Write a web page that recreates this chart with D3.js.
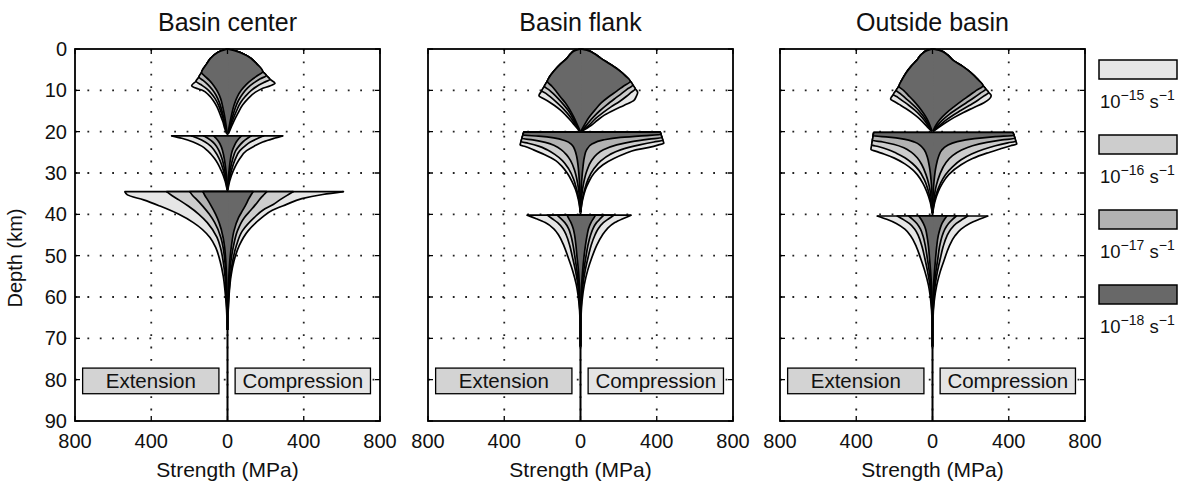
<!DOCTYPE html>
<html>
<head>
<meta charset="utf-8">
<script src="https://cdn.jsdelivr.net/npm/d3@7"></script>
<style>
    body { margin: 0; background: #fff; }
    svg { display: block; }
    text { font-family: "Liberation Sans", Arial, Helvetica, sans-serif; fill: #111; }
</style>
</head>
<body>
<div id="chart"></div>
<script>
// ---- data (depth in km, strength in MPa; extension < 0) ----
const panelTitles = ["Basin center", "Basin flank", "Outside basin"];
const rateExponents = ["15", "16", "17", "18"];
const depthTicks = [0, 10, 20, 30, 40, 50, 60, 70, 80, 90];
const gridDepths = [10, 20, 30, 40, 50, 60, 70, 80];
const strengthTicks = [-800, -400, 0, 400, 800];
const strengthTickLabels = ["800", "400", "0", "400", "800"];
const gridStrengths = [-400, 0, 400];
const regimeLabels = ["Extension", "Compression"];

// brittle (frictional) lines per layer, shared by all strain rates
const centerBrittleExt = [
    [[0, 0], [0.5, -35], [1.6, -74], [3.6, -109], [5.7, -136], [6.8, -150], [7.8, -165], [8.9, -188]],
    [], []
];
const centerBrittleComp = [
    [[0, 0], [0.5, 45], [1.6, 100], [3.6, 153], [5.5, 185], [6.4, 203], [7.3, 222], [8.3, 249]],
    [], []
];
// ductile branches per layer, strain rates 1e-15 .. 1e-18
const centerExt = [
    [
        [[8.9, -188], [9.4, -170], [10.1, -127], [11, -102], [12.5, -74], [14, -55], [15.8, -39], [17.5, -25], [19.4, -13], [20.5, -4]],
        [[7.8, -165], [8.6, -140], [9.6, -110], [10.6, -88], [12, -65], [13.5, -48], [15.5, -32], [17.5, -19], [20.5, -3]],
        [[6.8, -150], [7.6, -128], [8.6, -103], [9.8, -80], [11.2, -60], [12.8, -44], [14.8, -30], [17, -18], [20.5, -2]],
        [[5.7, -136], [6.6, -118], [7.6, -95], [9, -70], [10.5, -50], [12, -36], [14, -25], [16, -16], [18, -9], [20.5, -1.5]]
    ],
    [
        [[21, -293], [21.6, -240], [22.5, -180], [23.5, -135], [24.6, -105], [26.5, -68], [29.5, -32], [32, -12], [34, -2]],
        [[21, -190], [21.6, -156], [22.5, -117], [23.5, -88], [24.6, -68], [26.5, -44], [29.5, -21], [32, -8], [34, -1.5]],
        [[21, -125], [21.6, -103], [22.5, -77], [23.5, -58], [24.6, -45], [26.5, -29], [29.5, -14], [32, -5], [34, -1]],
        [[21, -72], [21.6, -60], [22.5, -45], [23.5, -34], [24.6, -26], [26.5, -17], [29.5, -8], [32, -3], [34, -0.5]]
    ],
    [
        [[34.5, -538], [35.3, -525], [36.5, -440], [38, -354], [40, -255], [42, -179], [45.6, -92], [48, -62], [51.3, -39], [55, -22], [58.5, -13], [63, -5], [68, -1]],
        [[34.5, -319], [35.5, -290], [36.5, -255], [38, -206], [40, -150], [42, -106], [45.6, -55], [48, -37], [51.3, -23], [55, -13], [58.5, -8], [63, -3], [68, -0.6]],
        [[34.5, -198], [35.5, -182], [36.5, -160], [38, -130], [40, -95], [42, -67], [45.6, -35], [48, -23], [51.3, -14], [55, -8], [58.5, -5], [63, -2], [68, -0.4]],
        [[34.5, -129], [35.5, -118], [36.5, -104], [38, -85], [40, -62], [42, -44], [45.6, -23], [48, -15], [51.3, -9], [55, -5], [58.5, -3], [63, -1.2], [68, -0.3]]
    ]
];
const centerComp = [
    [
        [[8.3, 249], [8.9, 225], [9.6, 180], [10.5, 145], [12, 108], [13.5, 80], [15.5, 55], [17.5, 33], [19.5, 14], [20.5, 4]],
        [[7.3, 222], [8.1, 190], [9, 155], [10, 125], [11.5, 93], [13, 68], [15, 47], [17, 29], [20.5, 3]],
        [[6.4, 203], [7.2, 172], [8.2, 138], [9.4, 106], [10.8, 80], [12.4, 58], [14.4, 40], [16.6, 25], [20.5, 2]],
        [[5.5, 185], [6.4, 158], [7.4, 128], [8.6, 98], [10, 72], [11.5, 52], [13.5, 35], [16, 21], [18, 12], [20.5, 1.5]]
    ],
    [
        [[21, 290], [21.6, 245], [22.5, 185], [23.5, 140], [24.6, 100], [26.5, 65], [29.5, 30], [32, 11], [34, 2]],
        [[21, 190], [21.6, 160], [22.5, 120], [23.5, 91], [24.6, 65], [26.5, 42], [29.5, 20], [32, 7], [34, 1.5]],
        [[21, 125], [21.6, 105], [22.5, 80], [23.5, 60], [24.6, 43], [26.5, 28], [29.5, 13], [32, 5], [34, 1]],
        [[21, 73], [21.6, 61], [22.5, 46], [23.5, 35], [24.6, 25], [26.5, 16], [29.5, 8], [32, 3], [34, 0.5]]
    ],
    [
        [[34.5, 608], [35.2, 500], [36.2, 390], [37.6, 310], [39, 235], [40.8, 180], [44, 108], [47.5, 62], [51.3, 34], [55, 18], [58.5, 10], [63, 4], [68, 1]],
        [[34.5, 345], [35.2, 320], [36.2, 285], [37.6, 240], [39, 185], [40.8, 140], [44, 78], [47.5, 47], [51.3, 27], [55, 15], [58.5, 8.5], [63, 3.4], [68, 0.8]],
        [[34.5, 206], [35.2, 192], [36.2, 172], [37.6, 148], [39, 122], [40.8, 88], [44, 52], [47.5, 32], [51.3, 18], [55, 10], [58.5, 6], [63, 2.4], [68, 0.5]],
        [[34.5, 134], [35.2, 125], [36.2, 112], [37.6, 97], [39, 80], [40.8, 58], [44, 34], [47.5, 21], [51.3, 12], [55, 7], [58.5, 4], [63, 1.6], [68, 0.4]]
    ]
];

const flankBrittleExt = [
    [[0, 0], [0.4, -30], [1, -48], [2.2, -70], [3.8, -108], [5.4, -140], [6.6, -160], [7.8, -174], [9, -189], [10.1, -203], [11.3, -218]],
    [[20.1, -297], [20.8, -302], [21.6, -307], [22.4, -312], [23.2, -317]],
    []
];
const flankBrittleComp = [
    [[0, 0], [0.4, 40], [1, 68], [2.2, 105], [3.8, 160], [5.4, 209], [6.6, 238], [7.8, 261], [8.7, 274], [9.6, 287], [10.5, 300]],
    [[20.1, 418], [20.7, 422], [21.4, 427], [22.1, 432], [22.8, 437]],
    []
];
const flankExt = [
    [
        [[11.3, -218], [11.9, -198], [12.5, -174], [13.6, -138], [14.8, -105], [16, -78], [17.3, -52], [18.5, -30], [19.9, -4]],
        [[10.1, -203], [10.8, -180], [11.6, -158], [12.8, -128], [14, -100], [15.4, -72], [16.8, -48], [18.3, -26], [19.9, -3.5]],
        [[9, -189], [9.9, -165], [10.8, -143], [12, -117], [13.4, -90], [14.9, -64], [16.5, -42], [18.1, -23], [19.9, -3]],
        [[7.8, -174], [9, -150], [10.2, -128], [11.5, -107], [13, -80], [14.8, -55], [16.5, -35], [18, -20], [19.9, -2]]
    ],
    [
        [[23.2, -317], [23.6, -290], [24.4, -246], [25.5, -190], [27, -130], [28.5, -95], [30, -70], [32, -45], [34, -26], [36.5, -11], [39.5, -1]],
        [[22.4, -312], [22.8, -275], [23.5, -220], [24.4, -175], [25.5, -135], [27, -95], [29, -62], [31.5, -36], [34, -20], [36.5, -8], [39.5, -0.7]],
        [[21.6, -307], [22, -250], [22.6, -185], [23.4, -135], [24.4, -100], [25.5, -75], [27, -52], [29.5, -30], [32.5, -15], [36, -5], [39.5, -0.5]],
        [[20.8, -302], [21.1, -220], [21.5, -140], [22.2, -80], [23.2, -45], [24.4, -30], [26, -20], [28.5, -12], [32, -6], [36, -2], [39.5, -0.3]]
    ],
    [
        [[40.2, -280], [41, -235], [42, -185], [43.5, -140], [45, -115], [47.5, -88], [50.4, -65], [53.5, -42], [57, -22], [61, -9], [66, -2], [72, -0.3]],
        [[40.2, -174], [41, -150], [42, -120], [43.5, -92], [45, -75], [47.5, -57], [50.4, -42], [53.5, -27], [57, -14], [61, -6], [66, -1.3], [72, -0.2]],
        [[40.2, -122], [41, -104], [42, -82], [43.5, -62], [45, -51], [47.5, -39], [50.4, -29], [53.5, -19], [57, -10], [61, -4], [66, -0.9], [72, -0.1]],
        [[40.2, -70], [41, -62], [42, -50], [43.5, -38], [45, -31], [47.5, -24], [50.4, -18], [53.5, -11], [57, -6], [61, -2.4], [66, -0.5], [72, -0.1]]
    ]
];
const flankComp = [
    [
        [[10.5, 300], [11.5, 292], [12.5, 279], [13.6, 230], [14.8, 174], [16, 125], [17.3, 87], [18.5, 55], [19.9, 6]],
        [[9.6, 287], [10.5, 265], [11.5, 240], [12.7, 205], [14, 160], [15.4, 118], [16.8, 80], [18.4, 45], [19.9, 4]],
        [[8.7, 274], [9.7, 245], [10.8, 215], [12, 180], [13.5, 138], [15, 100], [16.6, 65], [18.2, 35], [19.9, 3]],
        [[7.8, 261], [9, 225], [10.2, 190], [11.5, 150], [13, 110], [14.8, 75], [16.5, 45], [18, 25], [19.9, 2]]
    ],
    [
        [[22.8, 437], [23.2, 410], [23.8, 360], [24.4, 290], [25.3, 235], [26.5, 175], [28, 118], [30, 72], [32, 45], [34, 26], [36.5, 11], [39.5, 1]],
        [[22.1, 432], [22.5, 385], [23.2, 310], [24.4, 210], [25.5, 155], [27, 108], [29, 70], [31.5, 40], [34, 22], [36.5, 9], [39.5, 0.8]],
        [[21.4, 427], [21.8, 360], [22.4, 270], [23.2, 190], [24.4, 120], [25.5, 85], [27, 58], [29.5, 33], [32.5, 16], [36, 5], [39.5, 0.5]],
        [[20.7, 422], [21, 320], [21.4, 210], [22, 120], [23, 60], [24.4, 32], [26, 21], [28.5, 13], [32, 6], [36, 2], [39.5, 0.3]]
    ],
    [
        [[40.2, 265], [41, 225], [42, 180], [43.5, 140], [45, 115], [47.5, 85], [50.4, 60], [53.5, 38], [57, 20], [61, 8], [66, 2], [72, 0.3]],
        [[40.2, 175], [41, 150], [42, 120], [43.5, 93], [45, 76], [47.5, 56], [50.4, 40], [53.5, 25], [57, 13], [61, 5.3], [66, 1.3], [72, 0.2]],
        [[40.2, 122], [41, 105], [42, 84], [43.5, 65], [45, 53], [47.5, 39], [50.4, 28], [53.5, 17.5], [57, 9], [61, 3.7], [66, 0.9], [72, 0.1]],
        [[40.2, 79], [41, 68], [42, 55], [43.5, 42], [45, 35], [47.5, 26], [50.4, 18], [53.5, 11.5], [57, 6], [61, 2.4], [66, 0.6], [72, 0.1]]
    ]
];

const outsideBrittleExt = [
    [[0, 0], [0.4, -30], [1.2, -55], [2.8, -84], [4.2, -112], [5.6, -136], [7.3, -158], [9, -176], [10, -190], [11, -205], [12.1, -220]],
    [[20.2, -308], [21, -311], [22.1, -315], [23.2, -319], [24.3, -323]],
    []
];
const outsideBrittleComp = [
    [[0, 0], [0.4, 40], [1.2, 72], [2.8, 110], [4.2, 158], [5.6, 198], [7.3, 236], [8.9, 265], [9.7, 279], [10.5, 294], [11.3, 308]],
    [[20.2, 422], [20.9, 427], [21.6, 432], [22.3, 437], [23, 442]],
    []
];
const outsideExt = [
    [
        [[12.1, -220], [12.7, -200], [13.4, -175], [14.4, -140], [15.5, -105], [16.6, -75], [17.8, -48], [18.9, -26], [19.9, -4]],
        [[11, -205], [11.7, -182], [12.5, -158], [13.6, -125], [14.8, -93], [16, -66], [17.3, -42], [18.6, -22], [19.9, -3.5]],
        [[10, -190], [10.9, -166], [11.9, -142], [13.1, -112], [14.4, -82], [15.8, -56], [17.1, -35], [18.5, -18], [19.9, -3]],
        [[9, -176], [10, -152], [11.2, -127], [12.5, -100], [14, -72], [15.5, -48], [17, -28], [18.5, -13], [19.9, -2]]
    ],
    [
        [[24.3, -323], [24.7, -300], [25.4, -255], [26.4, -200], [27.8, -145], [29.2, -105], [30.4, -80], [32.5, -50], [34.5, -30], [37, -12], [39.7, -1]],
        [[23.2, -319], [23.6, -285], [24.3, -235], [25.2, -190], [26.3, -145], [27.7, -105], [29.3, -72], [31.5, -44], [34, -24], [37, -9], [39.7, -0.8]],
        [[22.1, -315], [22.5, -260], [23.1, -200], [23.9, -150], [25, -110], [26.3, -80], [28, -56], [30.4, -34], [33, -18], [36.5, -6], [39.7, -0.5]],
        [[21, -311], [21.3, -230], [21.8, -150], [22.5, -95], [23.5, -60], [24.5, -42], [26, -28], [28.5, -16], [32, -7], [36, -2], [39.7, -0.3]]
    ],
    [
        [[40.4, -290], [41.2, -240], [42.2, -190], [43.6, -145], [45.2, -115], [47.8, -85], [50.7, -62], [53.8, -40], [57.2, -21], [61, -9], [66, -2], [72, -0.3]],
        [[40.4, -185], [41.2, -155], [42.2, -122], [43.6, -93], [45.2, -74], [47.8, -55], [50.7, -40], [53.8, -26], [57.2, -13.5], [61, -5.8], [66, -1.3], [72, -0.2]],
        [[40.4, -125], [41.2, -104], [42.2, -82], [43.6, -63], [45.2, -50], [47.8, -37], [50.7, -27], [53.8, -17], [57.2, -9], [61, -3.9], [66, -0.9], [72, -0.1]],
        [[40.4, -72], [41.2, -60], [42.2, -48], [43.6, -36], [45.2, -29], [47.8, -21], [50.7, -15.5], [53.8, -10], [57.2, -5.3], [61, -2.3], [66, -0.5], [72, -0.1]]
    ]
];
const outsideComp = [
    [
        [[11.3, 308], [12.1, 298], [13, 270], [14.2, 215], [15.4, 160], [16.6, 112], [17.8, 70], [18.9, 35], [19.9, 5]],
        [[10.5, 294], [11.4, 268], [12.4, 238], [13.6, 195], [14.9, 148], [16.2, 102], [17.5, 62], [18.8, 30], [19.9, 4]],
        [[9.7, 279], [10.7, 250], [11.8, 217], [13, 178], [14.4, 132], [15.8, 88], [17.2, 52], [18.6, 24], [19.9, 3]],
        [[8.9, 265], [10, 230], [11.2, 195], [12.5, 155], [14, 112], [15.5, 72], [17, 40], [18.5, 17], [19.9, 2]]
    ],
    [
        [[23, 442], [23.4, 410], [24.2, 354], [25.2, 285], [26.5, 210], [28, 150], [30.4, 85], [32.5, 52], [34.5, 30], [37, 12], [39.7, 1]],
        [[22.3, 437], [22.7, 395], [23.4, 330], [24.3, 265], [25.4, 205], [26.8, 150], [28.5, 105], [30.4, 68], [32.5, 42], [34.5, 24], [37, 9], [39.7, 0.8]],
        [[21.6, 432], [22, 365], [22.6, 285], [23.4, 210], [24.5, 150], [25.8, 105], [27.5, 70], [30.4, 38], [33, 20], [36.5, 7], [39.7, 0.5]],
        [[20.9, 427], [21.2, 330], [21.7, 220], [22.4, 130], [23.4, 75], [24.5, 48], [26, 32], [28.5, 18], [32, 8], [36, 2.5], [39.7, 0.3]]
    ],
    [
        [[40.4, 290], [41.2, 245], [42.2, 195], [43.6, 150], [45.2, 118], [47.8, 87], [50.7, 64], [53.8, 41], [57.2, 22], [61, 9], [66, 2], [72, 0.3]],
        [[40.4, 185], [41.2, 157], [42.2, 125], [43.6, 96], [45.2, 76], [47.8, 56], [50.7, 41], [53.8, 26], [57.2, 14], [61, 5.8], [66, 1.3], [72, 0.2]],
        [[40.4, 125], [41.2, 105], [42.2, 84], [43.6, 65], [45.2, 51], [47.8, 37], [50.7, 28], [53.8, 18], [57.2, 9.5], [61, 3.9], [66, 0.9], [72, 0.1]],
        [[40.4, 75], [41.2, 63], [42.2, 50], [43.6, 39], [45.2, 30], [47.8, 22], [50.7, 16], [53.8, 10.5], [57.2, 5.5], [61, 2.3], [66, 0.5], [72, 0.1]]
    ]
];

// ---- layout ----
const width = 1192, height = 486;
const panelLeft = [75, 428, 780];
const panelWidth = 305;
const plotTop = 49, plotBottom = 421;
const rateFills = ["#e6e6e6", "#cdcdcd", "#b2b2b2", "#686868"];
const lineWidth = 1.7;

const svg = d3.select("#chart").append("svg")
    .attr("width", width)
    .attr("height", height);

const y = d3.scaleLinear().domain([0, 90]).range([plotTop, plotBottom]);

const panels = [
    { bExt: centerBrittleExt, bComp: centerBrittleComp, ext: centerExt, comp: centerComp },
    { bExt: flankBrittleExt, bComp: flankBrittleComp, ext: flankExt, comp: flankComp },
    { bExt: outsideBrittleExt, bComp: outsideBrittleComp, ext: outsideExt, comp: outsideComp }
];

function envelope(brittle, ductile) {
    const start = ductile[0][0];
    return brittle.filter(d => d[0] < start).concat(ductile);
}

function drawPanel(p, i) {
    const left = panelLeft[i], right = left + panelWidth;
    const x = d3.scaleLinear().domain([-800, 800]).range([left, right]);
    const g = svg.append("g");

    // dotted grid
    g.selectAll(".vgrid").data(gridStrengths).join("line")
        .attr("x1", d => x(d)).attr("x2", d => x(d))
        .attr("y1", plotTop).attr("y2", plotBottom)
        .attr("stroke", "#222").attr("stroke-width", 1.8)
        .attr("stroke-dasharray", "1.8,10.6");
    g.selectAll(".hgrid").data(gridDepths).join("line")
        .attr("x1", left).attr("x2", right)
        .attr("y1", d => y(d)).attr("y2", d => y(d))
        .attr("stroke", "#222").attr("stroke-width", 1.8)
        .attr("stroke-dasharray", "1.8,10.6");

    // zero stress line
    g.append("line")
        .attr("x1", x(0)).attr("x2", x(0))
        .attr("y1", y(0)).attr("y2", y(90))
        .attr("stroke", "#000").attr("stroke-width", 2);

    const line = d3.line()
        .curve(d3.curveMonotoneY)
        .x(d => x(d[1]))
        .y(d => y(d[0]));
    const areaComp = d3.area()
        .curve(d3.curveMonotoneY)
        .y(d => y(d[0]))
        .x0(x(0) - 0.6)
        .x1(d => x(d[1]));
    const areaExt = d3.area()
        .curve(d3.curveMonotoneY)
        .y(d => y(d[0]))
        .x0(x(0) + 0.6)
        .x1(d => x(d[1]));

    p.ext.forEach((layer, li) => {
        layer.forEach((ductExt, ri) => {
            const ext = envelope(p.bExt[li], ductExt);
            const comp = envelope(p.bComp[li], p.comp[li][ri]);
            const band = g.append("g");
            band.append("path").attr("d", areaComp(comp)).attr("fill", rateFills[ri]);
            band.append("path").attr("d", areaExt(ext)).attr("fill", rateFills[ri]);
            band.append("path").attr("d", line(comp))
                .attr("fill", "none").attr("stroke", "#000").attr("stroke-width", lineWidth)
                .attr("stroke-linejoin", "round");
            band.append("path").attr("d", line(ext))
                .attr("fill", "none").attr("stroke", "#000").attr("stroke-width", lineWidth)
                .attr("stroke-linejoin", "round");
            if (ext[0][0] > 0) {
                band.append("line")
                    .attr("x1", x(ext[0][1])).attr("y1", y(ext[0][0]))
                    .attr("x2", x(comp[0][1])).attr("y2", y(comp[0][0]))
                    .attr("stroke", "#000").attr("stroke-width", lineWidth)
                    .attr("stroke-linecap", "round");
            }
        });
    });

    // Extension / Compression boxes
    const boxes = [[-760, -45, "#d3d3d3"], [40, 750, "#e4e4e4"]];
    boxes.forEach((b, bi) => {
        g.append("rect")
            .attr("x", x(b[0])).attr("y", y(77.2))
            .attr("width", x(b[1]) - x(b[0])).attr("height", y(83.4) - y(77.2))
            .attr("fill", b[2]).attr("stroke", "#000").attr("stroke-width", 1.3);
        g.append("text")
            .attr("x", (x(b[0]) + x(b[1])) / 2)
            .attr("y", (y(77.2) + y(83.4)) / 2 + 7)
            .attr("text-anchor", "middle")
            .style("font-size", "20.5px")
            .text(regimeLabels[bi]);
    });

    // frame and inward ticks
    g.append("rect")
        .attr("x", left).attr("y", plotTop)
        .attr("width", panelWidth).attr("height", plotBottom - plotTop)
        .attr("fill", "none").attr("stroke", "#000").attr("stroke-width", 1.8);
    g.selectAll(".ytick").data(depthTicks).join("path")
        .attr("d", d => `M${left},${y(d)}h5M${right},${y(d)}h-5`)
        .attr("stroke", "#000").attr("stroke-width", 1.3);
    g.selectAll(".xtick").data(strengthTicks).join("path")
        .attr("d", d => `M${x(d)},${plotBottom}v-5M${x(d)},${plotTop}v5`)
        .attr("stroke", "#000").attr("stroke-width", 1.3);

    g.selectAll(".xlabel").data(strengthTicks).join("text")
        .attr("x", d => x(d))
        .attr("y", 448)
        .attr("text-anchor", "middle")
        .style("font-size", "20px")
        .text((d, k) => strengthTickLabels[k]);

    if (i === 0) {
        g.selectAll(".ylabel").data(depthTicks).join("text")
            .attr("x", left - 8)
            .attr("y", d => y(d) + 7)
            .attr("text-anchor", "end")
            .style("font-size", "20px")
            .text(d => d);
        g.append("text")
            .attr("transform", `translate(22, 258) rotate(-90)`)
            .attr("text-anchor", "middle")
            .style("font-size", "20px")
            .text("Depth (km)");
    }

    g.append("text")
        .attr("x", x(0)).attr("y", 31)
        .attr("text-anchor", "middle")
        .style("font-size", "25px")
        .text(panelTitles[i]);
    g.append("text")
        .attr("x", x(0)).attr("y", 477)
        .attr("text-anchor", "middle")
        .style("font-size", "21px")
        .text("Strength (MPa)");
}

panels.forEach((p, i) => drawPanel(p, i));

// legend
const legendTop = [60, 135, 210, 285];
const legend = svg.append("g");
rateExponents.forEach((r, ri) => {
    legend.append("rect")
        .attr("x", 1099).attr("y", legendTop[ri])
        .attr("width", 78).attr("height", 19)
        .attr("fill", rateFills[ri]).attr("stroke", "#000").attr("stroke-width", 1.5);
    const t = legend.append("text")
        .attr("x", 1100).attr("y", legendTop[ri] + 48)
        .style("font-size", "18.5px");
    t.append("tspan").text("10");
    t.append("tspan").attr("dy", -8).style("font-size", "14px").text("\u2212" + r);
    t.append("tspan").attr("dy", 8).text(" s");
    t.append("tspan").attr("dy", -8).style("font-size", "14px").text("\u22121");
});
</script>
</body>
</html>
